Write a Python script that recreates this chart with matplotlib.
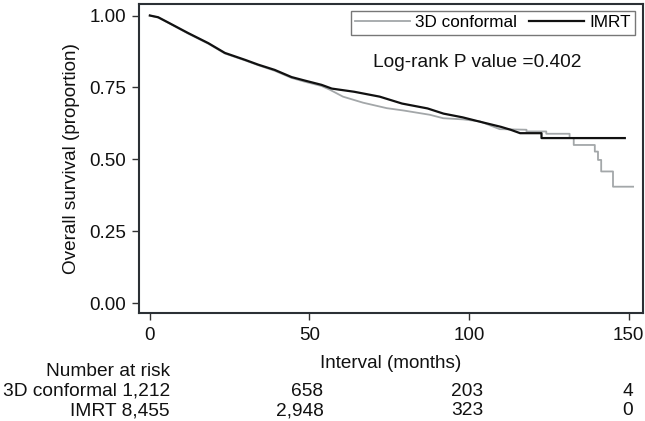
import matplotlib
matplotlib.use("Agg")
import matplotlib.pyplot as plt
from matplotlib.transforms import blended_transform_factory, ScaledTranslation

plt.rcParams['font.family'] = ['Liberation Sans', 'DejaVu Sans']

# ---- data ----
imrt_t = [0, 2.6, 5.7, 12, 18.3, 23.5, 29.8, 34, 39.1, 44.4, 48.5, 53.8, 57, 64, 72, 79, 87, 92, 98,
          103, 110, 113, 116, 122.7, 122.7, 148.8]
imrt_s = [1.00, 0.994, 0.976, 0.939, 0.904, 0.870, 0.846, 0.829, 0.811, 0.786, 0.774, 0.759, 0.746,
          0.735, 0.718, 0.694, 0.677, 0.659, 0.646, 0.632, 0.613, 0.603, 0.591, 0.591, 0.574, 0.574]

conf_t = [0, 2.6, 5.7, 12, 18.3, 23.5, 29.8, 34, 39.1, 44.4, 48.5, 53.8, 56.4, 60.5, 66.8, 74.2, 79.4,
          87.7, 91.9, 98.1, 103.4, 109.6, 118, 118, 124.2, 124.2, 131.5, 131.5, 132.8, 132.8, 139.4,
          139.4, 140.4, 140.4, 141.4, 141.4, 145.1, 145.1, 151.4]
conf_s = [1.00, 0.993, 0.975, 0.937, 0.902, 0.868, 0.844, 0.827, 0.808, 0.783, 0.770, 0.755, 0.742,
          0.718, 0.697, 0.678, 0.670, 0.655, 0.643, 0.639, 0.632, 0.605, 0.603, 0.597, 0.597, 0.589,
          0.589, 0.574, 0.574, 0.550, 0.550, 0.527, 0.527, 0.498, 0.498, 0.458, 0.458, 0.405, 0.405]

series_names = ["3D conformal", "IMRT"]
risk_times = [0, 50, 100, 150]
risk_conf = [1212, 658, 203, 4]
risk_imrt = [8455, 2948, 323, 0]
x_ticks = [0, 50, 100, 150]
y_ticks = [0.00, 0.25, 0.50, 0.75, 1.00]
pvalue_text = "Log-rank P value =0.402"

W, H = 645, 421
fig = plt.figure(figsize=(W / 100, H / 100), dpi=100)
ax = fig.add_axes([139 / W, 1 - 313 / H, (643 - 139) / W, (313 - 4) / H])

gray = '#a3a7a9'
dark = '#111111'
ax.plot(conf_t, conf_s, color=gray, lw=1.3, label=series_names[0], zorder=2)
ax.plot(imrt_t, imrt_s, color=dark, lw=1.6, label=series_names[1], zorder=3)

ax.set_xlim(-3.4, 154.5)
ax.set_ylim(-0.034, 1.04)
ax.set_xticks(x_ticks)
ax.set_yticks(y_ticks)
ax.set_yticklabels([f"{v:.2f}" for v in y_ticks])
ax.tick_params(axis='both', direction='out', length=5, width=1, color='#333333',
               labelsize=13.6, pad=4, labelcolor='#111111')
ax.tick_params(axis='x', pad=5)
for sp in ax.spines.values():
    sp.set_color('#2b3035')
    sp.set_linewidth(1.5)

ax.set_ylabel("Overall survival (proportion)", fontsize=13.6, color='#111111', labelpad=7)
ax.set_xlabel("Interval (months)", fontsize=13.6, color='#111111', labelpad=8)

ax.text(102.7, 0.836, pvalue_text, fontsize=13.8, ha='center', va='center', color='#111111')

leg = ax.legend(loc='upper right', bbox_to_anchor=(635 / W, 1 - 11 / H),
                bbox_transform=fig.transFigure, ncol=2, fontsize=12.3, frameon=True,
                fancybox=False, handlelength=3.2, handletextpad=0.3, columnspacing=0.75,
                borderpad=0.25, borderaxespad=0)
leg.get_frame().set_edgecolor('#555555')
leg.get_frame().set_linewidth(1.0)

# ---- number at risk table ----
trans = blended_transform_factory(ax.transData, fig.transFigure)
fs = 13.8
ax.text(6.26, 1 - 372 / H, "Number at risk", transform=trans, ha='right', va='center',
        fontsize=fs, color='#111111', clip_on=False)
rows = [(series_names[0], risk_conf, 1 - 391 / H), (series_names[1], risk_imrt, 1 - 410.5 / H)]
for name, vals, yy in rows:
    for i, (t, v) in enumerate(zip(risk_times, vals)):
        if i == 0:
            ax.text(6.26, yy, f"{name} {v:,}", transform=trans, ha='right', va='center',
                    fontsize=fs, color='#111111', clip_on=False)
        else:
            off = 14 if i < 3 else 4
            tr = trans + ScaledTranslation(off / 100, 0, fig.dpi_scale_trans)
            ax.text(t, yy, f"{v:,}", transform=tr, ha='right', va='center',
                    fontsize=fs, color='#111111', clip_on=False)

fig.savefig("out.png", dpi=100)
